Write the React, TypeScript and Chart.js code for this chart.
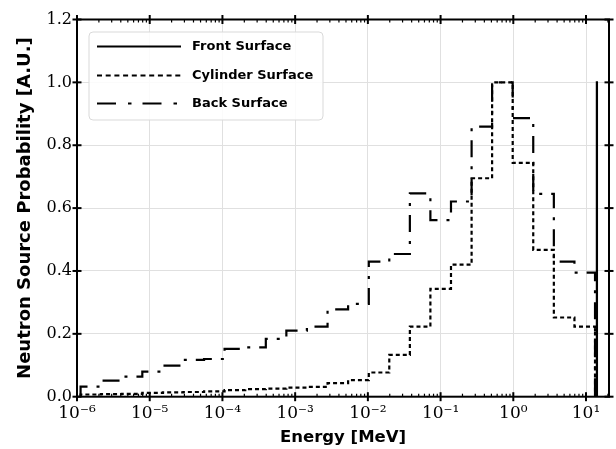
import React, { useEffect, useRef } from 'react';
import { Chart, registerables } from 'chart.js';

Chart.register(...registerables);

const BIN_EDGES_MEV = [
  1.12e-6, 2.15e-6, 4.12e-6, 7.91e-6, 1.52e-5, 2.91e-5, 5.59e-5, 1.07e-4,
  2.06e-4, 3.95e-4, 7.57e-4, 1.45e-3, 2.79e-3, 5.35e-3, 1.03e-2, 1.97e-2,
  3.78e-2, 7.24e-2, 0.139, 0.267, 0.511, 0.981, 1.88, 3.61, 6.93, 13.3,
];

// Cylinder surface probability per bin
const CYLINDER_SURFACE = [
  0.007, 0.008, 0.009, 0.012, 0.014, 0.015, 0.017, 0.021, 0.024, 0.026,
  0.029, 0.031, 0.043, 0.053, 0.077, 0.133, 0.223, 0.343, 0.42, 0.695,
  1.0, 0.744, 0.467, 0.252, 0.223,
];

// Back surface probability per bin
const BACK_SURFACE = [
  0.032, 0.051, 0.064, 0.08, 0.099, 0.117, 0.12, 0.152, 0.157, 0.184,
  0.21, 0.223, 0.278, 0.295, 0.43, 0.454, 0.647, 0.562, 0.621, 0.859,
  1.0, 0.886, 0.645, 0.43, 0.395,
];

// Front surface: a single narrow 14 MeV line
const FRONT_EDGES_MEV = [14.1, 14.13];
const FRONT_SURFACE = [1.0];

const SERIES_LABELS = ['Front Surface', 'Cylinder Surface', 'Back Surface'];

const X_TICK_VALUES = [1e-6, 1e-5, 1e-4, 1e-3, 1e-2, 1e-1, 1e0, 1e1];
const X_TICK_LABELS = ['10⁻⁶', '10⁻⁵', '10⁻⁴', '10⁻³', '10⁻²', '10⁻¹', '10⁰', '10¹'];
const Y_TICK_VALUES = [0, 0.2, 0.4, 0.6, 0.8, 1.0, 1.2];

const X_MIN = 1e-6;
const X_MAX = 20.7;

function stepPoints(edges: number[], values: number[]) {
  const pts: { x: number; y: number }[] = [{ x: edges[0], y: 0 }];
  values.forEach((v, i) => pts.push({ x: edges[i], y: v }));
  pts.push({ x: edges[edges.length - 1], y: 0 });
  return pts;
}

const CYL_DASH = [4, 3];
const BACK_DASH = [17, 9, 3, 9];

const framePlugin = {
  id: 'frameAndLegend',
  afterDraw(chart: any) {
    const { ctx, chartArea, scales } = chart;
    const { left, right, top, bottom } = chartArea;
    const xs = scales.x;
    const ys = scales.y;
    ctx.save();
    ctx.strokeStyle = '#000';
    ctx.setLineDash([]);
    const seg = (x1: number, y1: number, x2: number, y2: number) => {
      ctx.beginPath();
      ctx.moveTo(x1, y1);
      ctx.lineTo(x2, y2);
      ctx.stroke();
    };
    // minor x ticks (inward)
    ctx.lineWidth = 1.2;
    for (let d = -6; d <= 1; d++) {
      for (let m = 2; m <= 9; m++) {
        const v = m * Math.pow(10, d);
        if (v >= X_MAX) continue;
        const px = xs.getPixelForValue(v);
        seg(px, bottom, px, bottom - 3);
        seg(px, top, px, top + 3);
      }
    }
    // frame
    ctx.lineWidth = 2;
    ctx.strokeRect(left, top, right - left, bottom - top);
    // major ticks (in-out)
    for (const v of X_TICK_VALUES) {
      const px = xs.getPixelForValue(v);
      seg(px, bottom - 4.5, px, bottom + 4.5);
      seg(px, top - 4.5, px, top + 4.5);
    }
    for (const v of Y_TICK_VALUES) {
      const py = ys.getPixelForValue(v);
      seg(left - 4.5, py, left + 4.5, py);
      seg(right - 4.5, py, right + 4.5, py);
    }

    // legend
    const bx = left + 12;
    const by = top + 12.5;
    const bw = 234;
    const bh = 88;
    ctx.beginPath();
    ctx.roundRect(bx, by, bw, bh, 4);
    ctx.fillStyle = 'rgba(255,255,255,0.85)';
    ctx.fill();
    ctx.lineWidth = 1;
    ctx.strokeStyle = '#d9d9d9';
    ctx.stroke();
    const dashes = [[], [5, 3.7], [19, 12, 3.5, 11]];
    const rowsY = [by + 14.5, by + 43.5, by + 71.5];
    ctx.font = 'bold 13px "DejaVu Sans"';
    ctx.textBaseline = 'middle';
    ctx.textAlign = 'left';
    ctx.fillStyle = '#000';
    ctx.strokeStyle = '#000';
    ctx.lineWidth = 2;
    chart.data.datasets.forEach((ds: any, i: number) => {
      ctx.setLineDash(dashes[i]);
      seg(bx + 8, rowsY[i], bx + 92, rowsY[i]);
      ctx.setLineDash([]);
      ctx.fillText(ds.label, bx + 103, rowsY[i] + 0.5);
    });
    ctx.restore();
  },
};

export default function App() {
  const canvasRef = useRef<HTMLCanvasElement | null>(null);

  useEffect(() => {
    if (!canvasRef.current) return;
    const common = {
      borderColor: '#000',
      borderWidth: 2.2,
      pointRadius: 0,
      pointHoverRadius: 0,
      fill: false,
      stepped: true,
      tension: 0,
    };
    const chart = new Chart(canvasRef.current, {
      type: 'line',
      data: {
        datasets: [
          { ...common, label: SERIES_LABELS[0], data: stepPoints(FRONT_EDGES_MEV, FRONT_SURFACE) },
          { ...common, label: SERIES_LABELS[1], data: stepPoints(BIN_EDGES_MEV, CYLINDER_SURFACE), borderDash: CYL_DASH },
          { ...common, label: SERIES_LABELS[2], data: stepPoints(BIN_EDGES_MEV, BACK_SURFACE), borderDash: BACK_DASH },
        ],
      } as any,
      options: {
        animation: false,
        responsive: false,
        devicePixelRatio: 1,
        layout: { padding: { top: 19.5, right: 7, bottom: 0, left: 0 } },
        plugins: {
          legend: { display: false },
          tooltip: { enabled: false },
        },
        scales: {
          x: {
            type: 'logarithmic',
            min: X_MIN,
            max: X_MAX,
            afterBuildTicks: (s: any) => {
              s.ticks = X_TICK_VALUES.map((v) => ({ value: v }));
            },
            afterFit: (s: any) => {
              s.height = 52.3;
            },
            ticks: {
              autoSkip: false,
              maxRotation: 0,
              minRotation: 0,
              padding: 7,
              color: '#000',
              font: { family: 'DejaVu Serif', size: 17 },
              callback: (_v: any, i: number) => X_TICK_LABELS[i],
            },
            grid: { color: '#e0e0e0', lineWidth: 1, drawTicks: false },
            border: { display: false },
            title: {
              display: true,
              text: 'Energy [MeV]',
              color: '#000',
              font: { family: 'DejaVu Sans', weight: 'bold', size: 16.5 },
              padding: { top: 0, bottom: 1 },
            },
          },
          y: {
            type: 'linear',
            min: 0,
            max: 1.2,
            afterBuildTicks: (s: any) => {
              s.ticks = Y_TICK_VALUES.map((v) => ({ value: v }));
            },
            afterFit: (s: any) => {
              s.width = 77;
            },
            ticks: {
              padding: 5,
              color: '#000',
              font: { family: 'DejaVu Serif', size: 16 },
              callback: (v: any) => Number(v).toFixed(1),
            },
            grid: { color: '#e0e0e0', lineWidth: 1, drawTicks: false },
            border: { display: false },
            title: {
              display: true,
              text: 'Neutron Source Probability [A.U.]',
              color: '#000',
              font: { family: 'DejaVu Sans', weight: 'bold', size: 18 },
              padding: { top: 15, bottom: 0 },
            },
          },
        },
      } as any,
      plugins: [framePlugin],
    });
    return () => chart.destroy();
  }, []);

  return (
    <div style={{ position: 'fixed', left: 0, top: 0, width: 616, height: 449, background: '#fff' }}>
      <canvas ref={canvasRef} width={616} height={449} style={{ display: 'block' }} />
    </div>
  );
}
